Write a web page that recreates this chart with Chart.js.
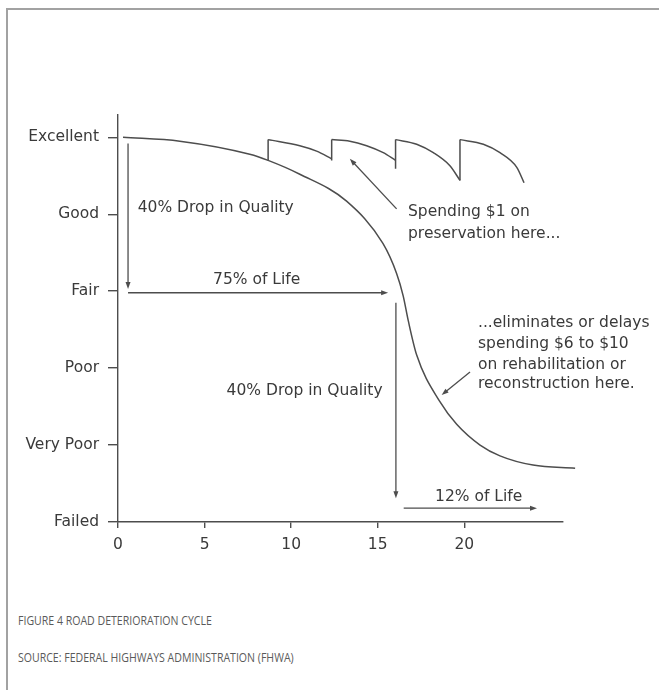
<!DOCTYPE html>
<html>
<head>
<meta charset="utf-8">
<script src="https://cdn.jsdelivr.net/npm/chart.js@4.4.1/dist/chart.umd.min.js"></script>
<style>
    html, body { margin: 0; padding: 0; background: #fff; }
    body { width: 659px; height: 690px; position: relative; overflow: hidden; }
    .frame {
        position: absolute; left: 6px; top: 8px; width: 700px; height: 720px;
        border-left: 2px solid #a2a2a2; border-top: 2px solid #a2a2a2;
    }
    #grafico { position: absolute; left: 0; top: 0; }
    .legenda {
        position: absolute; left: 18px; font-family: "Open Sans", sans-serif; font-size: 12px;
        color: #5a5a5a; transform: scaleX(0.88); transform-origin: left center; white-space: nowrap;
    }
</style>
</head>
<body>
<div class="frame"></div>
<canvas id="grafico" width="659" height="600"></canvas>
<div class="legenda" style="top:612px">FIGURE 4 ROAD DETERIORATION CYCLE</div>
<div class="legenda" style="top:649px">SOURCE: FEDERAL HIGHWAYS ADMINISTRATION (FHWA)</div>
<script>
// niveis de qualidade (eixo y) e anos (eixo x)
const niveis = ['Failed', 'Very Poor', 'Poor', 'Fair', 'Good', 'Excellent'];
const anosTicks = [0, 5, 10, 15, 20];

// curva sem manutencao
const anos = [0.29, 3.57, 7.61, 8.67, 10.5, 13.2, 15.3, 16.09, 16.47, 16.76, 17.25, 18.6, 19.56, 20.91, 22.06, 23.97, 26.4];
const qualidade = [5.0, 4.95, 4.78, 4.70, 4.52, 4.17, 3.62, 3.23, 2.94, 2.62, 2.17, 1.56, 1.27, 1.0, 0.86, 0.74, 0.70];

// dentes de preservacao
const dente1X = [8.67, 10.5, 11.47, 12.34];
const dente1Y = [4.97, 4.89, 4.82, 4.72];
const dente2X = [12.34, 13.39, 14.36, 15.32, 16.03];
const dente2Y = [4.97, 4.95, 4.89, 4.80, 4.70];
const dente3X = [16.03, 17.25, 18.21, 19.17, 19.75];
const dente3Y = [4.97, 4.91, 4.80, 4.63, 4.44];
const dente4X = [19.75, 21.10, 22.06, 23.03, 23.45];
const dente4Y = [4.97, 4.91, 4.80, 4.61, 4.41];

// verticais (restauracao)
const restauroX = [8.67, 12.34, 16.03, 19.75];
const restauroDe = [4.70, 4.70, 4.59, 4.44];
const restauroAte = 4.97;

// setas e textos em unidades do grafico
const setas = [
    { x1: 0.58, y1: 4.92, x2: 0.58, y2: 3.03 },
    { x1: 0.58, y1: 2.98, x2: 15.6, y2: 2.98 },
    { x1: 16.05, y1: 2.85, x2: 16.05, y2: 0.31 },
    { x1: 16.5, y1: 0.18, x2: 24.2, y2: 0.18 },
    { x1: 16.09, y1: 4.07, x2: 13.39, y2: 4.72 },
    { x1: 20.33, y1: 1.95, x2: 18.69, y2: 1.65 }
];
const notas = [
    { text: '40% Drop in Quality', x: 1.14, y: 4.08 },
    { text: '75% of Life', x: 5.49, y: 3.15 },
    { text: 'Spending $1 on', x: 16.75, y: 4.025 },
    { text: 'preservation here...', x: 16.75, y: 3.745 },
    { text: '...eliminates or delays', x: 20.79, y: 2.585 },
    { text: 'spending $6 to $10', x: 20.79, y: 2.31 },
    { text: 'on rehabilitation or', x: 20.79, y: 2.04 },
    { text: 'reconstruction here.', x: 20.79, y: 1.79 },
    { text: '40% Drop in Quality', x: 6.27, y: 1.70 },
    { text: '12% of Life', x: 18.31, y: 0.33 }
];

const corLinha = '#4d4d4d';
const corTexto = '#3a3a3a';
const fonte = { family: '"DejaVu Sans", sans-serif', size: 15.5 };

function pontos(xs, ys) {
    return xs.map((x, i) => ({ x: x, y: ys[i] }));
}

function serie(data) {
    return {
        data: data,
        showLine: true,
        borderColor: corLinha,
        borderWidth: 1.5,
        pointRadius: 0,
        cubicInterpolationMode: 'monotone',
        clip: false
    };
}

const verticais = [];
restauroX.forEach((x, i) => {
    verticais.push({ x: x, y: restauroDe[i] }, { x: x, y: restauroAte }, { x: x, y: null });
});

const anotacoes = {
    id: 'anotacoes',
    afterDatasetsDraw(chart) {
        const { ctx, scales: { x, y } } = chart;
        ctx.save();
        ctx.strokeStyle = corLinha;
        ctx.fillStyle = corLinha;
        ctx.lineWidth = 1.3;
        setas.forEach(s => {
            const ax = x.getPixelForValue(s.x1), ay = y.getPixelForValue(s.y1);
            const bx = x.getPixelForValue(s.x2), by = y.getPixelForValue(s.y2);
            const ang = Math.atan2(by - ay, bx - ax);
            ctx.beginPath();
            ctx.moveTo(ax, ay);
            ctx.lineTo(bx - Math.cos(ang) * 4, by - Math.sin(ang) * 4);
            ctx.stroke();
            ctx.beginPath();
            ctx.moveTo(bx, by);
            ctx.lineTo(bx - Math.cos(ang) * 7 + Math.sin(ang) * 2.5, by - Math.sin(ang) * 7 - Math.cos(ang) * 2.5);
            ctx.lineTo(bx - Math.cos(ang) * 7 - Math.sin(ang) * 2.5, by - Math.sin(ang) * 7 + Math.cos(ang) * 2.5);
            ctx.closePath();
            ctx.fill();
        });
        ctx.fillStyle = corTexto;
        ctx.font = fonte.size + 'px ' + fonte.family;
        ctx.textAlign = 'left';
        ctx.textBaseline = 'middle';
        notas.forEach(n => {
            ctx.fillText(n.text, x.getPixelForValue(n.x), y.getPixelForValue(n.y));
        });
        ctx.restore();
    }
};

const ctx = document.getElementById('grafico').getContext('2d');
new Chart(ctx, {
    type: 'scatter',
    data: {
        datasets: [
            serie(pontos(anos, qualidade)),
            serie(pontos(dente1X, dente1Y)),
            serie(pontos(dente2X, dente2Y)),
            serie(pontos(dente3X, dente3Y)),
            serie(pontos(dente4X, dente4Y)),
            Object.assign(serie(verticais), { cubicInterpolationMode: 'default', tension: 0, spanGaps: false })
        ]
    },
    options: {
        responsive: false,
        animation: false,
        layout: { padding: { top: 115, right: 96, left: 0, bottom: 0 } },
        plugins: { legend: { display: false }, tooltip: { enabled: false } },
        scales: {
            x: {
                type: 'linear',
                min: 0,
                max: 25.7,
                afterBuildTicks: s => { s.ticks = anosTicks.map(v => ({ value: v })); },
                afterFit: s => { s.height = 78; },
                grid: { drawOnChartArea: false, drawTicks: true, tickLength: 6, color: corLinha, lineWidth: 1.4 },
                border: { color: corLinha, width: 1.4 },
                ticks: { color: corTexto, font: fonte, padding: 8, maxRotation: 0 }
            },
            y: {
                type: 'linear',
                min: 0,
                max: 5.29,
                afterBuildTicks: s => { s.ticks = niveis.map((_, i) => ({ value: i })); },
                afterFit: s => { s.width = 118; },
                grid: { drawOnChartArea: false, drawTicks: true, tickLength: 10, color: corLinha, lineWidth: 1.4 },
                border: { color: corLinha, width: 1.4 },
                ticks: {
                    color: corTexto,
                    font: fonte,
                    padding: 9,
                    callback: v => niveis[v]
                }
            }
        }
    },
    plugins: [anotacoes]
});
</script>
</body>
</html>
